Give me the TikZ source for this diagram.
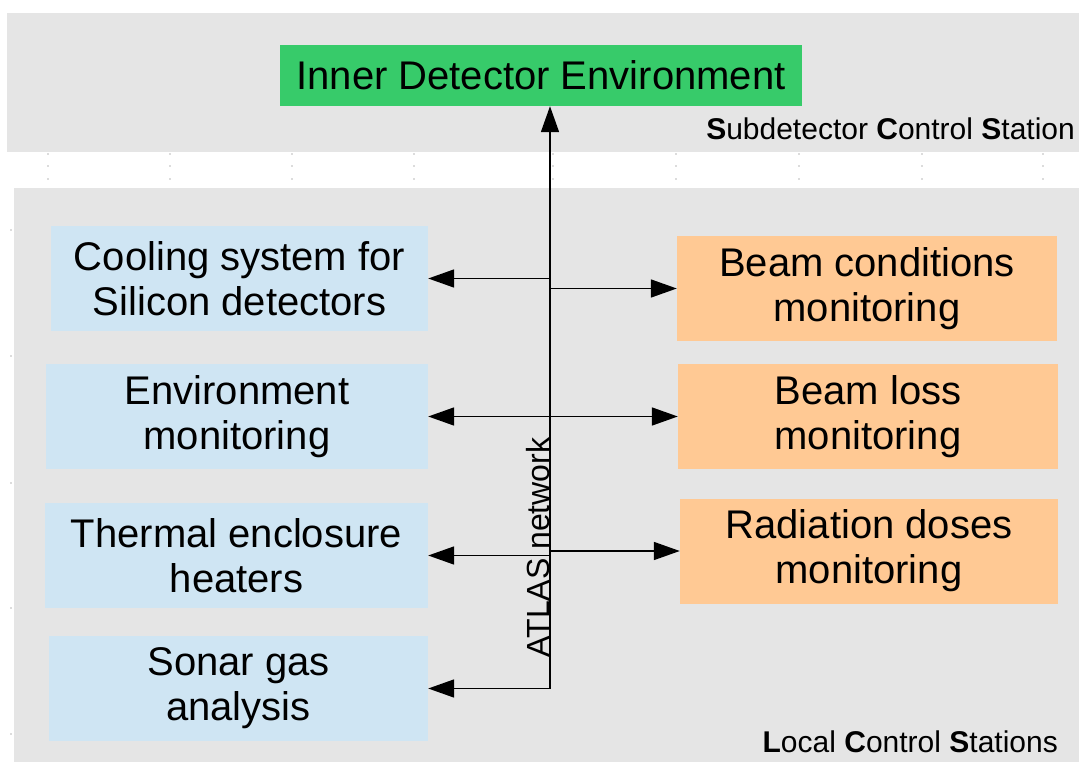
\documentclass[tikz,border=0pt]{standalone}
\usepackage{fontspec}
\setmainfont{Liberation Sans}
\usepackage{xcolor}
\definecolor{idegreen}{HTML}{37CB6A}
\definecolor{paleblue}{HTML}{CFE5F3}
\definecolor{peach}{HTML}{FFC994}
\definecolor{bandgray}{HTML}{E5E5E5}
\usetikzlibrary{positioning, arrows.meta}

\begin{document}
\begin{tikzpicture}[x=1pt, y=-1pt,
  box/.style={minimum height=105pt, inner sep=0pt, align=center, font=\fontsize{40}{45}\selectfont},
  local/.style={box, fill=paleblue},
  beam/.style={box, fill=peach, minimum width=380pt},
  link/.style={line width=1.7pt, -{Triangle[length=26pt,width=18pt]}},
  station/.style={font=\fontsize{30}{36}\selectfont, inner sep=0pt}]
  \useasboundingbox (0,0) rectangle (1079,762);
  \fill[bandgray] (7,13) rectangle (1079,152);
  \fill[bandgray] (14,188) rectangle (1079,762);
  \foreach \x in {48,170,292,414,553,676,799,922,1043} {
    \foreach \y in {154,166,179} {
      \fill[gray!55] (\x,\y) circle (0.9);
    }
  }
  \foreach \y in {230,356,483,608,734} {
    \fill[gray!55] (11,\y) circle (0.9);
  }

  \node[box, fill=idegreen, minimum width=522pt, minimum height=61pt] (ide) at (541,75.5) {Inner Detector Environment};
  \node[station, anchor=base east] (sds) at (1075,140) {\textbf{S}ubdetector \textbf{C}ontrol \textbf{S}tation};
  \node[station, anchor=base east] (lcs) at (1058,752) {\textbf{L}ocal \textbf{C}ontrol \textbf{S}tations};

  \node[local, minimum width=377pt] (cooling) at (239.5,278.5) {Cooling system for\\Silicon detectors};
  \node[local, minimum width=382pt] (envmon) at (237,416.5) {Environment\\monitoring};
  \node[local, minimum width=383pt] (thermal) at (236.5,555.5) {Thermal enclosure\\heaters};
  \node[local, minimum width=379pt] (sonar) at (238.5,688.5) {Sonar gas\\analysis};

  \node[beam] (bcm) at (867,288.5) {Beam conditions\\monitoring};
  \node[beam] (blm) at (868,416.5) {Beam loss\\monitoring};
  \node[beam, minimum width=378pt] (raddose) at (869,551) {Radiation doses\\monitoring};

  \node[font=\fontsize{32}{36}\selectfont, rotate=90, anchor=base, inner sep=0pt] (atlas) at (549,547.5) {ATLAS network};

  \coordinate (busend) at (550,688.5);
  \draw[link] (busend) -- (busend |- ide.south);
  \draw[link] (busend) -- (sonar.east);
  \foreach \n in {cooling,envmon,thermal} {
    \draw[link] (\n.east -| busend) -- (\n.east);
  }
  \foreach \n in {bcm,blm,raddose} {
    \draw[link] (\n.west -| busend) -- (\n.west);
  }
\end{tikzpicture}
\end{document}
